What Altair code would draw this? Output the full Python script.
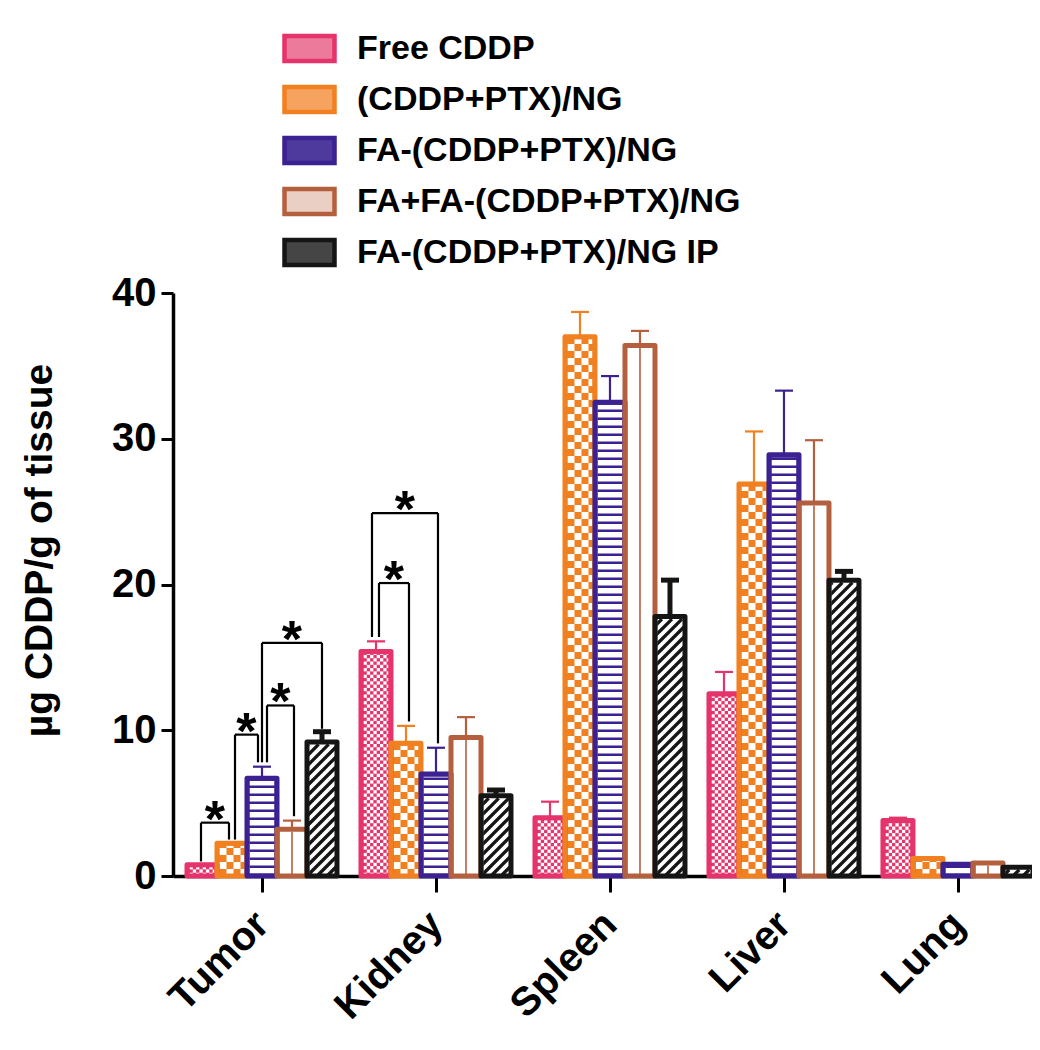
import json
import altair as alt
import pandas as pd

# ---------------- data ----------------
organs = ["Tumor", "Kidney", "Spleen", "Liver", "Lung"]
series = ["Free CDDP", "(CDDP+PTX)/NG", "FA-(CDDP+PTX)/NG",
          "FA+FA-(CDDP+PTX)/NG", "FA-(CDDP+PTX)/NG IP"]

free_cddp = [0.78, 15.4, 4.0, 12.5, 3.8]
free_cddp_top = [0.78, 16.1, 5.1, 14.0, 4.0]
cddp_ptx_ng = [2.25, 9.1, 37.0, 26.9, 1.2]
cddp_ptx_ng_top = [2.25, 10.3, 38.7, 30.5, 1.2]
fa_cddp_ptx_ng = [6.7, 7.0, 32.5, 28.9, 0.8]
fa_cddp_ptx_ng_top = [7.5, 8.8, 34.3, 33.3, 0.8]
fa_fa_cddp_ptx_ng = [3.2, 9.5, 36.4, 25.6, 0.9]
fa_fa_cddp_ptx_ng_top = [3.8, 10.9, 37.4, 29.9, 0.9]
fa_cddp_ptx_ng_ip = [9.2, 5.5, 17.8, 20.3, 0.6]
fa_cddp_ptx_ng_ip_top = [9.9, 5.9, 20.3, 20.9, 0.6]

means = [free_cddp, cddp_ptx_ng, fa_cddp_ptx_ng, fa_fa_cddp_ptx_ng, fa_cddp_ptx_ng_ip]
tops = [free_cddp_top, cddp_ptx_ng_top, fa_cddp_ptx_ng_top,
        fa_fa_cddp_ptx_ng_top, fa_cddp_ptx_ng_ip_top]

# significance brackets: organ, series a, series b, bracket height, leg ends
bracket_organ = ["Tumor", "Tumor", "Tumor", "Tumor", "Kidney", "Kidney"]
bracket_a = [0, 1, 2, 2, 0, 0]
bracket_b = [1, 2, 3, 4, 1, 2]
bracket_top = [3.66, 9.7, 11.7, 16.0, 20.1, 24.9]
bracket_left_end = [1.0, 2.5, 7.8, 7.8, 16.4, 16.4]
bracket_right_end = [2.5, 7.8, 4.1, 10.1, 10.6, 9.1]

# ---------------- style / layout ----------------
FONT = "Liberation Sans"
colors = ["#e5336b", "#f08020", "#3b2191", "#b4603f", "#151515"]
base_fill = ["#e5336b", "#f08020", "#3b2191", "#ffffff", "#ffffff"]
legend_fill = ["#ec7a9a", "#f5a35e", "#4d3a9c", "#ead0c4", "#454545"]
leg_dx_left = [-1, 3, 5, 0, 3, -4]      # px shift of bracket legs
leg_dx_right = [-3, -4, 2, 0, 3, 2]

W, H = 857, 583
XMIN, XMAX = -0.5115, 4.414
KX = W / (XMAX - XMIN)
KY = H / 40.0
BW_PX = 30.0
BW = BW_PX / KX
INS = 2.5
CAP_PX = 18.0

# ---------------- derived tables ----------------
bar_rows = []
for si, s in enumerate(series):
    for oi, o in enumerate(organs):
        cx = oi + (si - 2) * BW
        bar_rows.append(dict(organ=o, series=s, si=si, cx=cx, x0=cx - BW / 2,
                             x1=cx + BW / 2, y0=0.0, v=means[si][oi],
                             top=tops[si][oi], fill=base_fill[si],
                             stroke=colors[si]))
bars = pd.DataFrame(bar_rows)

rects, lines = [], []


def add_rect(x0, px0, px1, py0, py1, c):
    rects.append(dict(x=x0 + px0 / KX, x2=x0 + px1 / KX, y=py0 / KY,
                      y2=py1 / KY, c=c))


for b in bar_rows:
    w = BW_PX
    hi = b["v"] * KY - INS
    x0 = b["x0"]
    si = b["si"]
    if hi <= 0:
        continue
    if si in (0, 1):
        cell = 3.3 if si == 0 else 7.0
        r = 0
        while r * cell < hi:
            j = 0
            while INS + j * cell < w - INS:
                if (r + j) % 2 == (0 if si == 0 else 1):
                    add_rect(x0, INS + j * cell, min(INS + (j + 1) * cell, w - INS),
                             r * cell, min((r + 1) * cell, hi), "#ffffff")
                j += 1
            r += 1
    elif si == 2:
        period, line = 8.0, 2.5
        k = 0
        while k * period + line < hi:
            add_rect(x0, INS, w - INS, k * period + line,
                     min((k + 1) * period, hi), "#ffffff")
            k += 1
    elif si == 3:
        lines.append(dict(x=b["cx"], x2=b["cx"], y=0.0, y2=hi / KY,
                          c=colors[3], sw=1.6))
    elif si == 4:
        step = 10.0
        c = -w
        while c < hi:
            xs = max(0.0, -c)
            xe = min(w, hi - c)
            if xe > xs:
                lines.append(dict(x=x0 + xs / KX, x2=x0 + xe / KX,
                                  y=(xs + c) / KY, y2=(xe + c) / KY,
                                  c=colors[4], sw=3.3))
            c += step

rects_df = pd.DataFrame(rects)
lines_df = pd.DataFrame(lines)

err_rows = []
for b in bar_rows:
    if b["top"] > b["v"] + 0.05:
        sw = 5.0 if b["si"] == 4 else 2.2
        err_rows.append(dict(cx=b["cx"], v=b["v"], top=b["top"],
                             c0=b["cx"] - CAP_PX / 2 / KX,
                             c1=b["cx"] + CAP_PX / 2 / KX,
                             stroke=b["stroke"], sw=sw))
err_df = pd.DataFrame(err_rows)

seg_rows, star_rows = [], []
for i in range(len(bracket_organ)):
    oi = organs.index(bracket_organ[i])
    xa = oi + (bracket_a[i] - 2) * BW + leg_dx_left[i] / KX
    xb = oi + (bracket_b[i] - 2) * BW + leg_dx_right[i] / KX
    t = bracket_top[i]
    seg_rows.append(dict(x=xa, x2=xa, y=bracket_left_end[i], y2=t))
    seg_rows.append(dict(x=xa, x2=xb, y=t, y2=t))
    seg_rows.append(dict(x=xb, x2=xb, y=bracket_right_end[i], y2=t))
    star_rows.append(dict(x=(xa + xb) / 2, y=t))
seg_df = pd.DataFrame(seg_rows)
star_df = pd.DataFrame(star_rows)

# ---------------- scales / axes ----------------
xs = alt.Scale(domain=[XMIN, XMAX], nice=False, zero=False)
ys = alt.Scale(domain=[0, 40], nice=False, zero=True)
label_expr = json.dumps(organs) + "[datum.value]"
X_AX = alt.Axis(values=[0, 1, 2, 3, 4], labelExpr=label_expr, title=None,
                grid=False, domainColor="black", domainWidth=3.5,
                tickColor="black", tickWidth=3, tickSize=16,
                labelFont=FONT, labelFontSize=40, labelFontWeight="bold",
                labelColor="black", labelAngle=315, labelAlign="right",
                labelBaseline="middle", labelPadding=26, labelFlush=False,
                labelOverlap=False)
Y_AX = alt.Axis(values=[0, 10, 20, 30, 40], title="µg CDDP/g of tissue",
                grid=False, domainColor="black", domainWidth=3.5,
                tickColor="black", tickWidth=3, tickSize=12,
                labelFont=FONT, labelFontSize=40, labelFontWeight="bold",
                labelColor="black", labelPadding=5,
                titleFont=FONT, titleFontSize=39, titleFontWeight="bold",
                titleColor="black", titlePadding=52, titleY=257)


def X(f):
    return alt.X(f"{f}:Q", scale=xs, axis=X_AX)


def Y(f):
    return alt.Y(f"{f}:Q", scale=ys, axis=Y_AX)


fills = alt.Chart(bars).mark_rect(strokeWidth=0).encode(
    x=X("x0"), x2=alt.X2("x1"), y=Y("y0"), y2=alt.Y2("v"),
    color=alt.Color("fill:N", scale=None))

pat_rects = alt.Chart(rects_df).mark_rect(strokeWidth=0).encode(
    x=X("x"), x2=alt.X2("x2"), y=Y("y"), y2=alt.Y2("y2"),
    color=alt.Color("c:N", scale=None))

pat_lines = alt.Chart(lines_df).mark_rule(strokeCap="butt").encode(
    x=X("x"), x2=alt.X2("x2"), y=Y("y"), y2=alt.Y2("y2"),
    color=alt.Color("c:N", scale=None),
    strokeWidth=alt.StrokeWidth("sw:Q", scale=None))

outlines = alt.Chart(bars).mark_rect(filled=False, strokeWidth=5,
                                     strokeJoin="round").encode(
    x=X("x0"), x2=alt.X2("x1"), y=Y("y0"), y2=alt.Y2("v"),
    color=alt.Color("stroke:N", scale=None))

err_v = alt.Chart(err_df).mark_rule().encode(
    x=X("cx"), y=Y("v"), y2=alt.Y2("top"),
    color=alt.Color("stroke:N", scale=None),
    strokeWidth=alt.StrokeWidth("sw:Q", scale=None))

err_cap = alt.Chart(err_df).mark_rule().encode(
    x=X("c0"), x2=alt.X2("c1"), y=Y("top"),
    color=alt.Color("stroke:N", scale=None),
    strokeWidth=alt.StrokeWidth("sw:Q", scale=None))

brackets = alt.Chart(seg_df).mark_rule(color="black", strokeWidth=2.2).encode(
    x=X("x"), x2=alt.X2("x2"), y=Y("y"), y2=alt.Y2("y2"))

stars = alt.Chart(star_df).mark_text(
    text="*", font=FONT, fontSize=52, fontWeight="bold", color="black",
    align="center", baseline="alphabetic", dy=14).encode(x=X("x"), y=Y("y"))

RECT_PATH = "M-1,-0.5L1,-0.5L1,0.5L-1,0.5Z"
LEG = alt.Legend(title=None, orient="none", legendX=109, legendY=-272,
                 direction="vertical", symbolType=RECT_PATH, symbolSize=2500,
                 symbolStrokeWidth=4.5, symbolOpacity=1, labelFont=FONT,
                 labelFontSize=34, labelFontWeight="bold", labelColor="black",
                 labelOffset=20, rowPadding=2, labelLimit=1000, padding=0)

legend_layer = alt.Chart(bars).transform_filter("false").mark_point(
    filled=True, opacity=1, shape=RECT_PATH, size=2500, strokeWidth=4).encode(
    fill=alt.Fill("series:N", scale=alt.Scale(domain=series, range=legend_fill),
                  legend=LEG),
    stroke=alt.Stroke("series:N", scale=alt.Scale(domain=series, range=colors),
                      legend=LEG))

chart = alt.layer(fills, pat_rects, pat_lines, outlines, err_v, err_cap,
                  brackets, stars, legend_layer).properties(
    width=W, height=H,
    autosize=alt.AutoSizeParams(type="none"),
    padding={"left": 165, "top": 285, "right": 2, "bottom": 166},
    background="white",
).configure_view(stroke=None)

chart.save("out.html", embed_options={"renderer": "svg", "actions": False})
